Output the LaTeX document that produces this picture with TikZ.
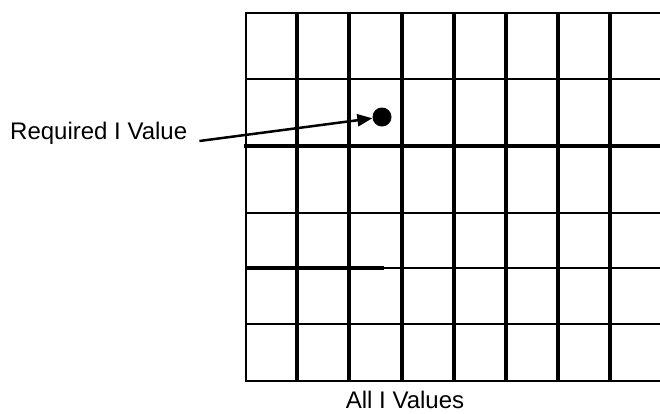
\documentclass[tikz,border=0pt]{standalone}
\usepackage{fontspec}
\setmainfont{Liberation Sans}
\usetikzlibrary{arrows.meta}
\tikzset{
  thinline/.style={line width=2pt},
  thickline/.style={line width=4pt},
  lbl/.style={inner sep=0pt,font=\fontsize{24}{28}\selectfont}
}
\begin{document}
\begin{tikzpicture}[x=1pt,y=-1pt]
    \useasboundingbox (0,0) rectangle (660,413);
    % rows
    \draw[thinline] (246,13) -- (660,13);
    \draw[thinline] (246,79) -- (660,79);
    \draw[thickline] (244,146) -- (660,146);
    \draw[thinline] (246,213) -- (660,213);
    \draw[thinline] (246,268) -- (660,268);
    \draw[line width=3.5pt] (246,268) -- (384,268);
    \draw[thinline] (246,324) -- (660,324);
    \draw[thinline] (246,381) -- (660,381);
    % columns
    \draw[thinline] (246,12) -- (246,382);
    \foreach \x in {297,349,402,454,506,558,610}
        \draw[thickline] (\x,12) -- (\x,382);
    % point and labels
    \node[circle,fill=black,inner sep=0pt,minimum size=19pt] (dot) at (382,117) {};
    \node[lbl,anchor=base west] (req) at (10,139) {Required I Value};
    \node[lbl,anchor=base] (all) at (405,408) {All I Values};
    \draw[line width=2.5pt,-{Triangle[length=15pt,width=12pt]}] ([xshift=12pt,yshift=-2pt]req.base east) -- (dot);
\end{tikzpicture}
\end{document}
